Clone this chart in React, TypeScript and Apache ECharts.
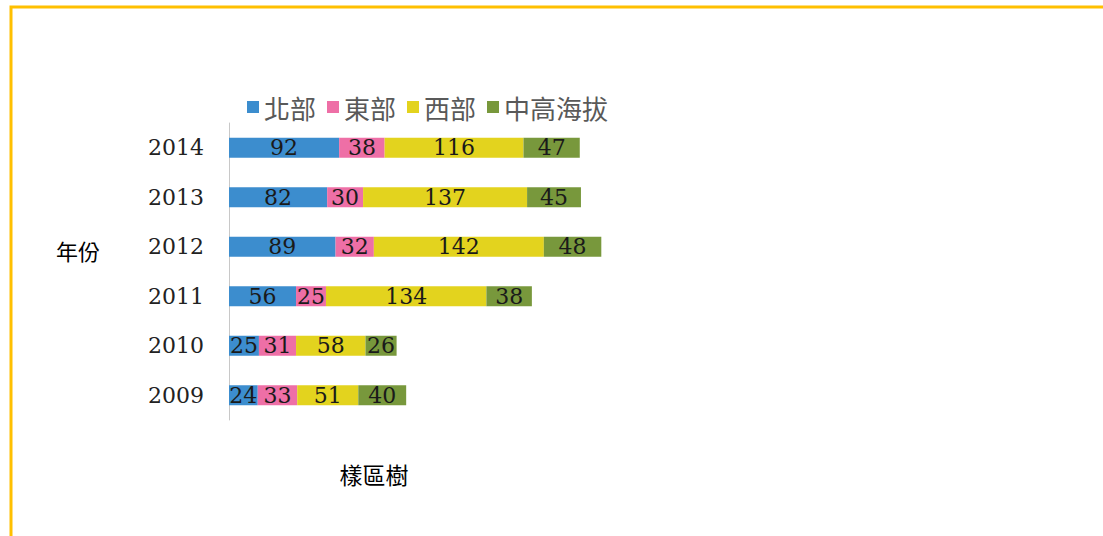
import React, { useEffect, useRef } from "react";
import * as echarts from "echarts";

const years = ["2009", "2010", "2011", "2012", "2013", "2014"];
const north = [24, 25, 56, 89, 82, 92];
const east = [33, 31, 25, 32, 30, 38];
const west = [51, 58, 134, 142, 137, 116];
const highland = [40, 26, 38, 48, 45, 47];
const seriesNames = ["北部", "東部", "西部", "中高海拔"];
const colors = ["#3C8DCE", "#EE6FA6", "#E3D31E", "#78983C"];

export default function App() {
  const ref = useRef<HTMLDivElement>(null);
  useEffect(() => {
    if (!ref.current) return;
    const chart = echarts.init(ref.current, null, { renderer: "svg" });
    const values = [north, east, west, highland];
    chart.setOption({
      animation: false,
      backgroundColor: "#ffffff",
      color: colors,
      legend: {
        left: 247,
        top: 94,
        padding: 0,
        itemWidth: 12,
        itemHeight: 12,
        itemGap: 11,
        icon: "rect",
        data: seriesNames,
        textStyle: {
          fontFamily: "Noto Sans CJK TC",
          fontSize: 26,
          color: "#595959",
        },
      },
      grid: { left: 229, top: 123, width: 419, height: 297 },
      xAxis: {
        type: "value",
        min: 0,
        max: 350,
        show: false,
      },
      yAxis: {
        type: "category",
        data: years,
        axisLine: { show: true, lineStyle: { color: "#c8c8c8", width: 1 } },
        axisTick: { show: false },
        axisLabel: {
          margin: 25,
          fontFamily: "DejaVu Serif",
          fontSize: 22,
          color: "#222222",
        },
      },
      series: seriesNames.map((name, i) => ({
        name,
        type: "bar",
        stack: "total",
        barWidth: 20,
        data: values[i],
        itemStyle: { color: colors[i] },
        label: {
          show: true,
          position: "inside",
          fontFamily: "DejaVu Serif",
          fontSize: 22,
          color: "#1a1a1a",
        },
      })),
      graphic: [
        {
          type: "rect",
          shape: { x: 11, y: 7, width: 1100, height: 540 },
          style: { fill: "none", stroke: "#FFC000", lineWidth: 3 },
          silent: true,
        },
        {
          type: "text",
          x: 78,
          y: 250,
          style: {
            text: "年份",
            fontFamily: "Noto Sans CJK TC",
            fontSize: 22,
            fill: "#000000",
            align: "center",
            verticalAlign: "middle",
          },
        },
        {
          type: "text",
          x: 374,
          y: 474,
          style: {
            text: "樣區樹",
            fontFamily: "Noto Sans CJK TC",
            fontSize: 23,
            fill: "#000000",
            align: "center",
            verticalAlign: "middle",
          },
        },
      ],
    });
    return () => chart.dispose();
  }, []);
  return (
    <div
      ref={ref}
      style={{ position: "fixed", left: 0, top: 0, width: 1103, height: 536 }}
    />
  );
}
